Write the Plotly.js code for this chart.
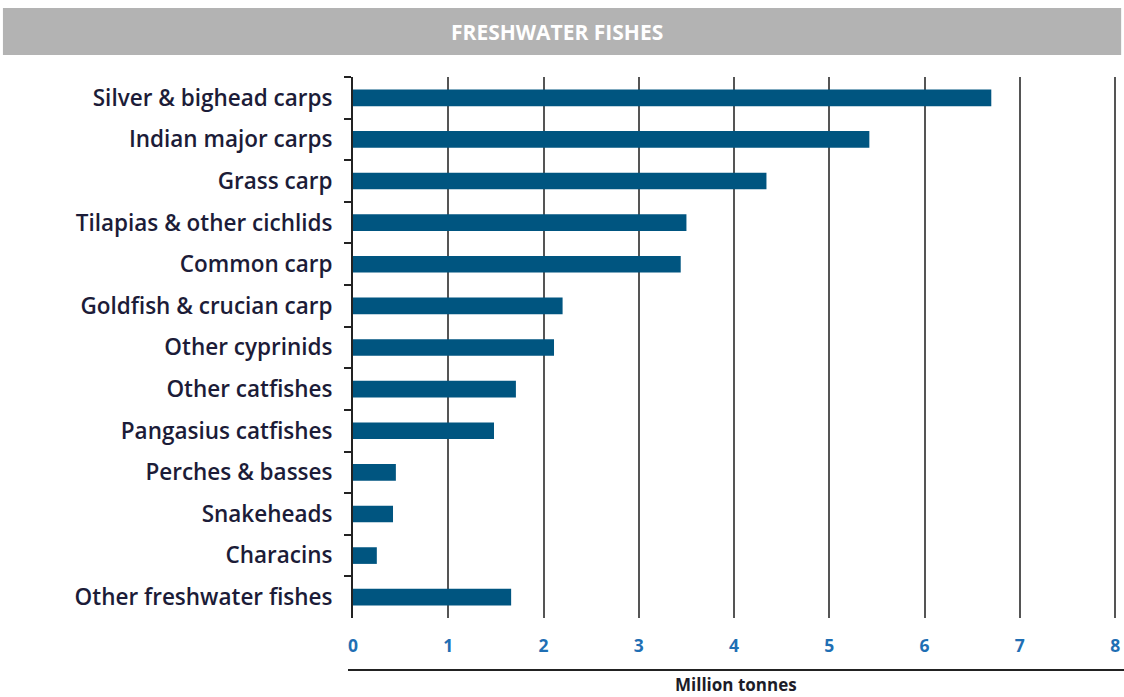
<!DOCTYPE html>
<html>
<head>
<meta charset="utf-8">
<script src="https://cdn.plot.ly/plotly-3.0.1.min.js"></script>
<style>html,body{margin:0;padding:0;background:#fff;}#chart{width:1124px;height:697px;}</style>
</head>
<body>
<div id="chart"></div>
<script>
const species = [
  "Silver & bighead carps",
  "Indian major carps",
  "Grass carp",
  "Tilapias & other cichlids",
  "Common carp",
  "Goldfish & crucian carp",
  "Other cyprinids",
  "Other catfishes",
  "Pangasius catfishes",
  "Perches & basses",
  "Snakeheads",
  "Characins",
  "Other freshwater fishes"
];
const production = [6.70, 5.42, 4.34, 3.50, 3.44, 2.20, 2.11, 1.71, 1.48, 0.45, 0.42, 0.25, 1.66];
const xTicks = [0, 1, 2, 3, 4, 5, 6, 7, 8];
const chartTitle = "FRESHWATER FISHES";
const xTitle = "Million tonnes";

const xMax = 8.03;
const L = 353, T = 77, B = 79, W = 1124, H = 697;
const pw = 762 * xMax / 8;
const R = W - L - pw;
const ph = H - T - B;
const px = v => (v - L) / pw;
const py = v => (H - B - v) / ph;

const trace = {
  type: "bar",
  orientation: "h",
  y: species,
  x: production,
  marker: {color: "#005580"},
  width: 0.4,
  hoverinfo: "x+y"
};

const layout = {
  width: W, height: H,
  margin: {l: L, r: R, t: T, b: B},
  paper_bgcolor: "#ffffff",
  plot_bgcolor: "#ffffff",
  showlegend: false,
  xaxis: {
    range: [0, xMax],
    tickvals: xTicks,
    ticktext: xTicks.map(String),
    showgrid: true,
    gridcolor: "#555555",
    gridwidth: 2,
    zeroline: false,
    showline: false,
    ticks: "",
    ticklabelstandoff: 15,
    tickfont: {family: "Open Sans, sans-serif", size: 17.5, color: "#1f6fb4", weight: "bold"}
  },
  yaxis: {
    type: "category",
    autorange: "reversed",
    showgrid: false,
    zeroline: false,
    showline: true,
    linecolor: "#222222",
    linewidth: 2,
    ticks: "outside",
    tickson: "boundaries",
    ticklen: 7,
    tickwidth: 2,
    tickcolor: "#222222",
    ticklabelstandoff: 14,
    tickfont: {family: "Open Sans, sans-serif", size: 22.5, color: "#1c1c38", weight: 600}
  },
  shapes: [
    {type: "rect", xref: "paper", yref: "paper",
     x0: px(3), x1: px(1121), y0: py(55), y1: py(8),
     fillcolor: "#b3b3b3", line: {width: 0}, layer: "below"},
    {type: "line", xref: "paper", yref: "paper",
     x0: px(348), x1: px(1124), y0: py(670), y1: py(670),
     line: {color: "#222222", width: 2}}
  ],
  annotations: [
    {text: "<b>" + chartTitle + "</b>", xref: "paper", yref: "paper",
     x: px(557), y: py(32), showarrow: false, xanchor: "center", yanchor: "middle",
     font: {family: "Open Sans, sans-serif", size: 21, color: "#ffffff"}},
    {text: "<b>" + xTitle + "</b>", xref: "paper", yref: "paper",
     x: px(736), y: py(684), showarrow: false, xanchor: "center", yanchor: "middle",
     font: {family: "Open Sans, sans-serif", size: 17, color: "#1c1c28"}}
  ]
};

Plotly.newPlot("chart", [trace], layout, {displayModeBar: false, staticPlot: true});
</script>
</body>
</html>
